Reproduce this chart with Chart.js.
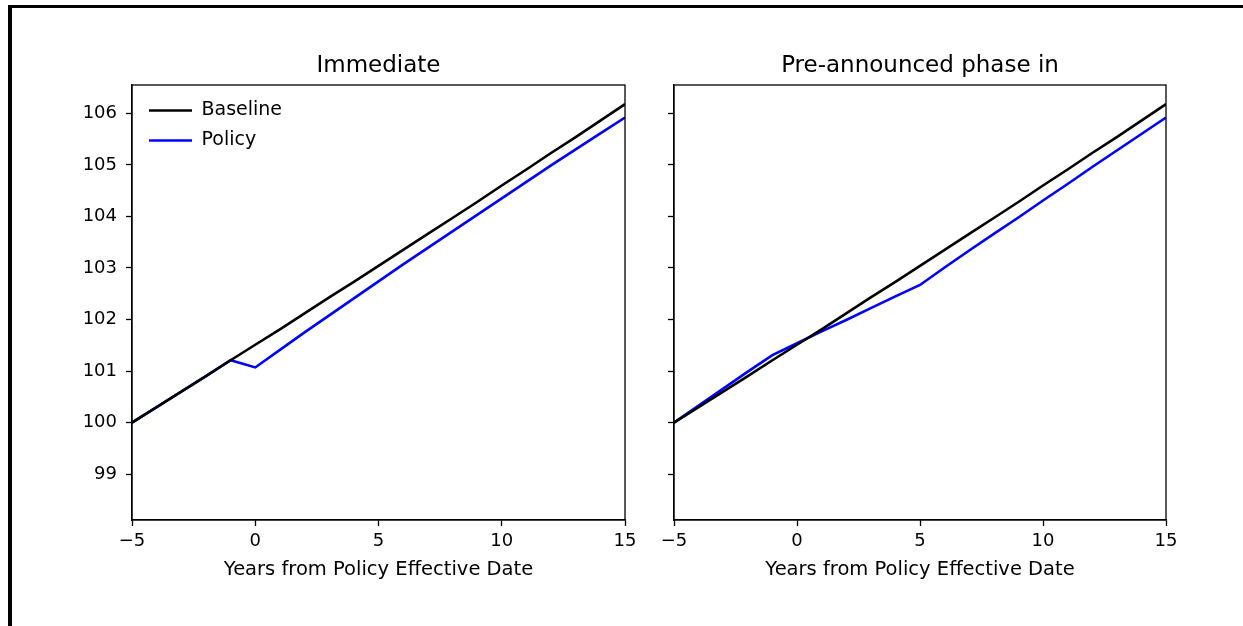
<!DOCTYPE html>
<html>
<head>
<meta charset="UTF-8">
<title>Baseline vs Policy</title>
<script src="https://cdn.jsdelivr.net/npm/chart.js@4.4.1/dist/chart.umd.min.js"></script>
<style>
  body { margin: 0; background: #fff; }
  #page { position: relative; width: 1243px; height: 626px; overflow: hidden; background: #fff; }
  #left { position: absolute; left: 0; top: 0; }
  #right { position: absolute; left: 640px; top: 0; }
  .frameTop { position: absolute; left: 8px; top: 5px; width: 1235px; height: 3px; background: #000; }
  .frameLeft { position: absolute; left: 8px; top: 5px; width: 4px; height: 621px; background: #000; }
</style>
</head>
<body>
<div id="page">
  <canvas id="left" width="640" height="626"></canvas>
  <canvas id="right" width="603" height="626"></canvas>
  <div class="frameTop"></div>
  <div class="frameLeft"></div>
</div>
<script>
// years from policy effective date
var years = [-5, -4, -3, -2, -1, 0, 1, 2, 3, 4, 5, 6, 7, 8, 9, 10, 11, 12, 13, 14, 15];
var baseline = [100.00, 100.30, 100.60, 100.90, 101.21, 101.51, 101.81, 102.12, 102.43, 102.73,
                103.04, 103.35, 103.66, 103.97, 104.28, 104.60, 104.91, 105.23, 105.54, 105.86, 106.18];
var policyImmediate = [100.00, 100.30, 100.60, 100.90, 101.21, 101.07, 101.41, 101.75, 102.08, 102.41,
                       102.74, 103.07, 103.39, 103.71, 104.03, 104.35, 104.67, 104.99, 105.30, 105.61, 105.92];
var policyPhaseIn = [100.00, 100.33, 100.66, 100.99, 101.31, 101.54, 101.77, 101.99, 102.22, 102.45,
                     102.67, 103.01, 103.34, 103.66, 103.98, 104.31, 104.63, 104.96, 105.28, 105.60, 105.92];
var xTicks = [-5, 0, 5, 10, 15];
var yTicks = [99, 100, 101, 102, 103, 104, 105, 106];
var yMin = 98.11, yMax = 106.55;

var FONT = 'DejaVu Sans';

function points(vals) {
  return years.map(function (x, i) { return {x: x, y: vals[i]}; });
}

// draws the top and right spines too
var axesBox = {
  id: 'axesBox',
  afterDatasetsDraw: function (chart) {
    var a = chart.chartArea, ctx = chart.ctx;
    ctx.save();
    ctx.strokeStyle = '#000';
    ctx.lineWidth = 1.3;
    ctx.strokeRect(a.left, a.top, a.right - a.left, a.bottom - a.top);
    ctx.restore();
  }
};

// the chartArea legend ends up at the canvas top, put it back inside the plot
var legendInside = {
  id: 'legendInside',
  afterLayout: function (chart) {
    var lg = chart.legend;
    if (!lg || !lg.options.display) return;
    var a = chart.chartArea;
    var dy = a.top + 5 - lg.top, dx = a.left + 6 - lg.left;
    lg.top += dy; lg.bottom += dy;
    lg.left += dx; lg.right += dx;
  }
};

function makeChart(id, title, policy, showLegend, showYLabels, yWidth, padRight) {
  var ctx = document.getElementById(id).getContext('2d');
  return new Chart(ctx, {
    type: 'line',
    data: {
      datasets: [
        { label: 'Baseline', data: points(baseline), borderColor: '#000000', backgroundColor: '#000000',
          borderWidth: 2.6, pointRadius: 0, tension: 0 },
        { label: 'Policy', data: points(policy), borderColor: '#0000ff', backgroundColor: '#0000ff',
          borderWidth: 2.6, pointRadius: 0, tension: 0 }
      ]
    },
    options: {
      responsive: false,
      animation: false,
      devicePixelRatio: 1,
      layout: { padding: { left: 0, right: padRight, top: 0, bottom: 0 } },
      plugins: {
        title: {
          display: true, text: title, fullSize: false, color: '#000',
          font: { family: FONT, size: 23, weight: 'normal' },
          padding: { top: 52.5, bottom: 4.9 }
        },
        legend: {
          display: showLegend, position: 'chartArea', align: 'start',
          labels: {
            color: '#000', font: { family: FONT, size: 19 },
            usePointStyle: true, pointStyle: 'line', pointStyleWidth: 43, padding: 11
          }
        },
        tooltip: { enabled: false }
      },
      scales: {
        x: {
          type: 'linear', min: -5, max: 15,
          afterBuildTicks: function (axis) { axis.ticks = xTicks.map(function (v) { return {value: v}; }); },
          afterFit: function (axis) { axis.height = 106; axis.paddingLeft = 0; axis.paddingRight = 0; },
          ticks: {
            color: '#000', font: { family: FONT, size: 18 }, padding: 5, maxRotation: 0, autoSkip: false,
            callback: function (v) { return v < 0 ? '\u2212' + Math.abs(v) : String(v); }
          },
          grid: { drawOnChartArea: false, tickLength: 6, tickColor: '#000', tickWidth: 1.3 },
          border: { color: '#000', width: 1.3 },
          title: {
            display: true, text: 'Years from Policy Effective Date', color: '#000',
            font: { family: FONT, size: 19.5 }, padding: { top: 4, bottom: 44.5 }
          }
        },
        y: {
          type: 'linear', min: yMin, max: yMax,
          afterBuildTicks: function (axis) { axis.ticks = yTicks.map(function (v) { return {value: v}; }); },
          afterFit: function (axis) { axis.width = yWidth; axis.paddingTop = 0; axis.paddingBottom = 0; },
          ticks: { display: showYLabels, color: '#000', font: { family: FONT, size: 18 }, padding: 9 },
          grid: { drawOnChartArea: false, tickLength: 6, tickColor: '#000', tickWidth: 1.3 },
          border: { color: '#000', width: 1.3 }
        }
      }
    },
    plugins: [axesBox, legendInside]
  });
}

makeChart('left', 'Immediate', policyImmediate, true, true, 132, 15);
makeChart('right', 'Pre-announced phase in', policyPhaseIn, false, false, 34, 77);
</script>
</body>
</html>
